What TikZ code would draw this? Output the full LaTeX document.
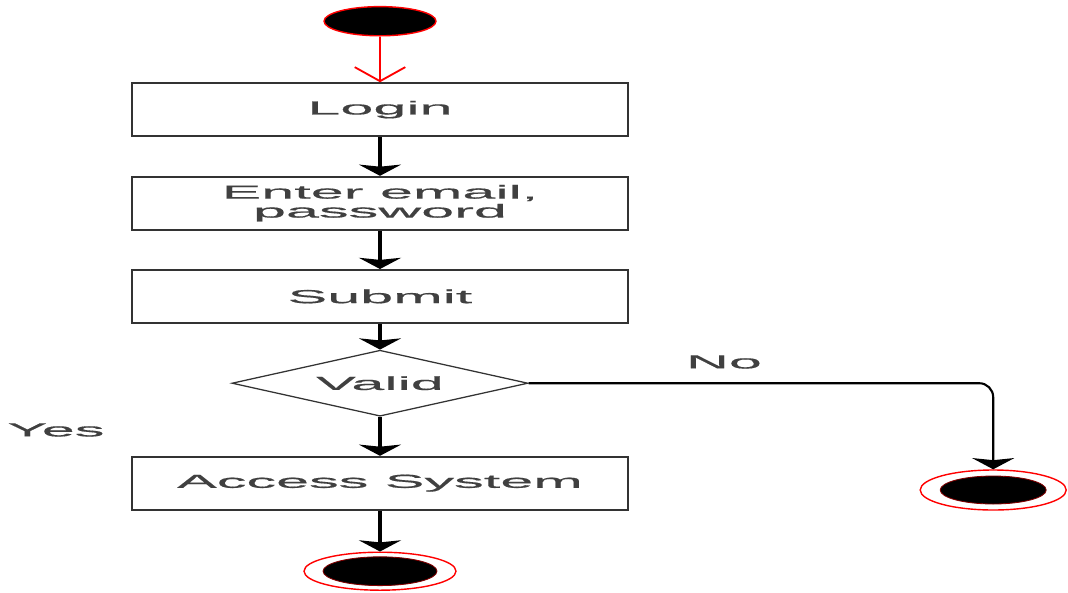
\documentclass[tikz,border=0pt]{standalone}
\usepackage{fontspec}
\setmainfont{Liberation Sans}[FakeStretch=3.15,FakeBold=0.6]
\usepackage{tikz}
\usetikzlibrary{positioning,shapes,arrows.meta}
\tikzset {
    style box/.style={
        draw=black!80,
        line width=1.4pt,
        rectangle, % Set the shape as a rectangle
        minimum width=12.4cm,
        minimum height=1.32cm,
        align=center,
        text=black!75,
    },
    style decision/.style={
        draw=black!80,
        line width=0.9pt,
        diamond, % Set the shape as a diamond
        shape aspect=4.5,
        minimum width=7.4cm,
        minimum height=1.65cm,
        inner sep=0pt,
        text=black!75,
    },
    style start/.style={
        fill=black,
        draw=red,
        line width=1pt,
        ellipse, % Set the shape as an ellipse
        minimum width=2.8cm,
        minimum height=0.73cm,
        inner sep=0pt,
    },
    style stop ring/.style={
        draw=red,
        line width=1pt,
        fill=white,
        ellipse,
        inner sep=0pt,
    },
    style stop dot/.style={
        fill=black,
        draw=red!50!black,
        line width=0.6pt,
        ellipse,
        inner sep=0pt,
    },
    style flow/.style={
        draw=black,
        line width=2.5pt,
        -{Stealth[width=30pt,length=8pt,inset=1.5pt]},
    },
    style init/.style={
        draw=red,
        line width=1.3pt,
        -{Straight Barb[width=36pt,length=10pt]},
    },
}

\begin{document}
\begin{tikzpicture}
        [font=\fontsize{13.4}{13.5}\selectfont]

        \useasboundingbox (0,0) rectangle (26.7,-14.8);

        \node[style start] at (9.5,-0.53) (start) {};
        \node[style box] at (9.5,-2.74) (login) {Login};
        \node[style box] at (9.5,-5.08) (enter) {Enter email,\\password};
        \node[style box] at (9.5,-7.41) (submit) {Submit};
        \node[style decision] at (9.5,-9.58) (valid) {Valid};
        \node[style box] at (9.5,-12.08) (access) {Access System};
        \node[style stop ring, minimum width=3.8cm, minimum height=0.95cm] at (9.5,-14.28) (endOk) {};
        \node[style stop dot, minimum width=2.85cm, minimum height=0.72cm] at (endOk) (endOkDot) {};
        \node[style stop ring, minimum width=3.65cm, minimum height=1cm] at (24.83,-12.25) (endNo) {};
        \node[style stop dot, minimum width=2.65cm, minimum height=0.7cm] at (endNo) (endNoDot) {};

        \node[text=black!75] at (1.4,-10.75) (yes) {Yes};
        \node[text=black!75] at (18.1,-9.05) (no) {No};

        \draw[style init] (start) -- (login);
        \draw[style flow] (login) -- (enter);
        \draw[style flow] (enter) -- (submit);
        \draw[style flow] (submit) -- (valid);
        \draw[style flow] (valid) -- (access);
        \draw[style flow] (access) -- (endOk);
        \draw[style flow, line width=1.5pt, rounded corners=0.35cm] (valid.east) -| (endNo.north);
    \end{tikzpicture}
\end{document}
